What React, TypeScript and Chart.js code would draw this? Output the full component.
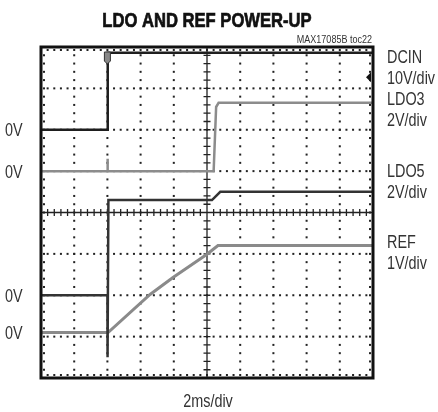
import React, { useEffect, useRef } from "react";
import { Chart, registerables } from "chart.js";

Chart.register(...registerables);

// Time in ms (2 ms/div, 10 divisions), values in volts
const dcinT = [0, 4, 4.02, 20];
const dcinV = [0, 0, 18.6, 18.6];

const ldo3T = [0, 3.98, 4.0, 4.03, 10.4, 10.55, 10.7, 20];
const ldo3V = [0, 0, 0.6, 0, 0, 3.1, 3.3, 3.3];

const ldo5T = [0, 4, 4.01, 4.06, 10.3, 10.8, 20];
const ldo5V = [0, 0, -3.0, 4.6, 4.6, 5.0, 5.0];

const refT = [0, 4.04, 6.57, 7.95, 10, 10.66, 20];
const refV = [0, 0, 0.92, 1.33, 1.89, 2.1, 2.1];

// Scope channel settings
const channelNames = ["DCIN", "LDO3", "LDO5", "REF"];
const channelScales = ["10V/div", "2V/div", "2V/div", "1V/div"];
const voltsPerDiv = [10, 2, 2, 1];
const groundDiv = [6, 5, 2, 1.1];
const triggerLevelV = 12.7;

const TITLE = "LDO AND REF POWER-UP";
const NOTE = "MAX17085B toc22";
const X_LABEL = "2ms/div";
const TRIGGER_MS = 4;

const FONT = "'Liberation Sans', Arial, sans-serif";

function toPoints(t: number[], v: number[], ch: number) {
  return t.map((x, i) => ({ x, y: groundDiv[ch] + v[i] / voltsPerDiv[ch] }));
}

function narrowText(ctx: any, text: string, x: number, y: number, font: string, align: string, sx: number, stroke = 0) {
  ctx.save();
  ctx.font = font;
  ctx.textAlign = align;
  ctx.translate(x, y);
  ctx.scale(sx, 1);
  ctx.fillText(text, 0, 0);
  if (stroke > 0) {
    ctx.strokeStyle = ctx.fillStyle;
    ctx.lineWidth = stroke;
    ctx.strokeText(text, 0, 0);
  }
  ctx.restore();
}

const scopePlugin = {
  id: "scope",
  beforeDatasetsDraw(chart: any) {
    const { ctx, chartArea: a, scales } = chart;
    const xs = scales.x;
    const ys = scales.y;
    ctx.save();
    ctx.fillStyle = "#222";
    const w = a.right - a.left;
    const h = a.bottom - a.top;
    for (let i = 1; i < 10; i++) {
      if (i === 5) continue;
      const x = xs.getPixelForValue(i * 2);
      for (let k = 1; k < 40; k++) {
        const y = a.top + (k * h) / 40;
        ctx.fillRect(x - 1, y - 1, 2, 2);
      }
    }
    for (let j = 1; j < 8; j++) {
      if (j === 4) continue;
      const y = ys.getPixelForValue(j);
      for (let k = 1; k < 50; k++) {
        const x = a.left + (k * w) / 50;
        ctx.fillRect(x - 1, y - 1, 2, 2);
      }
    }
    for (let k = 1; k < 50; k++) {
      const x = a.left + (k * w) / 50;
      ctx.fillRect(x - 1, a.top + 2, 2, 2);
      ctx.fillRect(x - 1, a.bottom - 4, 2, 2);
    }
    for (let k = 1; k < 40; k++) {
      const y = a.top + (k * h) / 40;
      ctx.fillRect(a.left + 2, y - 1, 2, 2);
      ctx.fillRect(a.right - 4, y - 1, 2, 2);
    }
    const cx = xs.getPixelForValue(10);
    const cy = ys.getPixelForValue(4);
    ctx.strokeStyle = "#222";
    ctx.lineWidth = 1.3;
    ctx.beginPath();
    ctx.moveTo(a.left, cy);
    ctx.lineTo(a.right, cy);
    ctx.moveTo(cx, a.top);
    ctx.lineTo(cx, a.bottom);
    for (let k = 1; k < 50; k++) {
      const x = a.left + (k * w) / 50;
      ctx.moveTo(x, cy - 3.5);
      ctx.lineTo(x, cy + 3.5);
    }
    for (let k = 1; k < 40; k++) {
      const y = a.top + (k * h) / 40;
      ctx.moveTo(cx - 3.5, y);
      ctx.lineTo(cx + 3.5, y);
    }
    ctx.stroke();
    ctx.restore();
  },
  afterDatasetsDraw(chart: any) {
    const { ctx, chartArea: a, scales } = chart;
    const xs = scales.x;
    const ys = scales.y;
    ctx.save();
    ctx.strokeStyle = "#111";
    ctx.lineWidth = 3;
    ctx.strokeRect(a.left, a.top, a.right - a.left, a.bottom - a.top);

    // trigger position marker
    const tx = xs.getPixelForValue(TRIGGER_MS);
    ctx.fillStyle = "#888";
    ctx.strokeStyle = "#333";
    ctx.lineWidth = 1;
    ctx.beginPath();
    ctx.moveTo(tx - 3, a.top + 5);
    ctx.lineTo(tx + 3, a.top + 5);
    ctx.lineTo(tx + 3, a.top + 14);
    ctx.lineTo(tx, a.top + 17);
    ctx.lineTo(tx - 3, a.top + 14);
    ctx.closePath();
    ctx.fill();
    ctx.stroke();

    // trigger level arrow
    const ay = ys.getPixelForValue(groundDiv[0] + triggerLevelV / voltsPerDiv[0]);
    ctx.fillStyle = "#111";
    ctx.beginPath();
    ctx.moveTo(a.right - 7, ay);
    ctx.lineTo(a.right - 2, ay - 5);
    ctx.lineTo(a.right - 2, ay + 5);
    ctx.closePath();
    ctx.fill();

    ctx.textBaseline = "alphabetic";
    ctx.fillStyle = "#111";
    narrowText(ctx, TITLE, 207, 27, `bold 20px ${FONT}`, "center", 0.83, 0.7);

    ctx.fillStyle = "#333";
    narrowText(ctx, NOTE, 372, 43, `11px ${FONT}`, "right", 0.82);

    const lab = `18px ${FONT}`;
    const nameBase = [63, 105, 177, 248];
    for (let i = 0; i < channelNames.length; i++) {
      narrowText(ctx, channelNames[i], 387, nameBase[i], lab, "left", 0.8);
      narrowText(ctx, channelScales[i], 387, nameBase[i] + 21, lab, "left", 0.8);
    }

    for (let i = 0; i < groundDiv.length; i++) {
      const y = ys.getPixelForValue(groundDiv[i]);
      narrowText(ctx, "0V", 5, y + 6.5, lab, "left", 0.8);
    }

    narrowText(ctx, X_LABEL, 208, 407, lab, "center", 0.8);
    ctx.restore();
  },
};

export default function App() {
  const ref = useRef<HTMLCanvasElement | null>(null);
  useEffect(() => {
    if (!ref.current) return;
    const chart = new Chart(ref.current, {
      type: "scatter",
      data: {
        datasets: [
          { label: "DCIN", data: toPoints(dcinT, dcinV, 0), borderColor: "#1e1e1e", borderWidth: 2.5 },
          { label: "LDO3", data: toPoints(ldo3T, ldo3V, 1), borderColor: "#8c8c8c", borderWidth: 2.5 },
          { label: "LDO5", data: toPoints(ldo5T, ldo5V, 2), borderColor: "#333333", borderWidth: 2.5 },
          { label: "REF", data: toPoints(refT, refV, 3), borderColor: "#8a8a8a", borderWidth: 3 },
        ].map((d) => ({ ...d, showLine: true, pointRadius: 0, tension: 0, fill: false })),
      },
      options: {
        responsive: false,
        animation: false,
        layout: { padding: { left: 41, top: 47, right: 65, bottom: 34 } },
        plugins: { legend: { display: false }, tooltip: { enabled: false }, title: { display: false } },
        scales: {
          x: { type: "linear", min: 0, max: 20, display: false },
          y: { type: "linear", min: 0, max: 8, display: false },
        },
      },
      plugins: [scopePlugin],
    });
    return () => chart.destroy();
  }, []);
  return (
    <div style={{ position: "absolute", left: 0, top: 0, width: 438, height: 412, background: "#fff" }}>
      <canvas ref={ref} width={438} height={412} />
    </div>
  );
}
